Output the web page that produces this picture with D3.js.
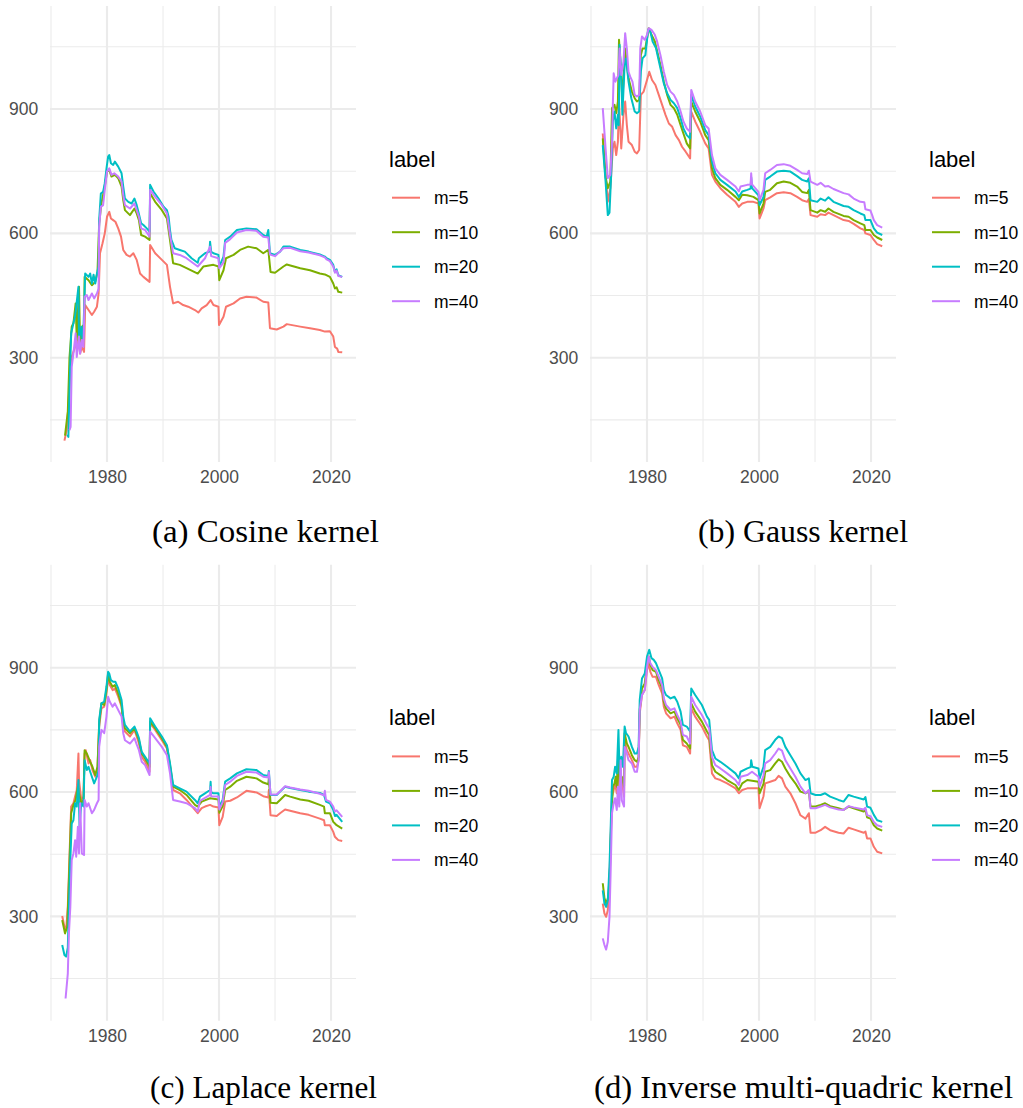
<!DOCTYPE html>
<html>
<head>
<meta charset="utf-8">
<script src="https://cdn.jsdelivr.net/npm/d3@7"></script>
<style>
  html, body { margin: 0; padding: 0; background: #fff; }
  svg { display: block; }
</style>
</head>
<body>
<svg id="chart" width="1023" height="1108"></svg>
<script>
// ---------------- DATA ----------------
const seriesLabels = ["m=5", "m=10", "m=20", "m=40"];
const seriesColors = ["#F8766D", "#7CAE00", "#00BFC4", "#C77CFF"];
const xTickValues = [1980, 2000, 2020];
const xMinorValues = [1970, 1990, 2010];
const yTickValues = [300, 600, 900];
const yMinorValues = [150, 450, 750, 1050];
const captions = ["(a) Cosine kernel", "(b) Gauss kernel", "(c) Laplace kernel", "(d) Inverse multi-quadric kernel"];

// (a) Cosine kernel
const cosM5 = [[1972.4,100],[1972.8,125],[1973.1,182],[1973.4,262],[1973.7,302],[1974.3,326],[1974.9,343],[1975.2,310],[1975.5,326],[1975.9,314],[1976.1,427],[1976.7,415],[1977.3,403],[1977.7,411],[1978.2,423],[1978.5,455],[1978.75,552],[1979.2,576],[1979.6,600],[1980.0,640],[1980.4,652],[1980.7,636],[1981.1,632],[1981.5,628],[1982.0,612],[1982.5,592],[1982.9,560],[1983.5,548],[1984.1,544],[1984.7,552],[1985.3,536],[1985.9,503],[1986.5,495],[1987.6,483],[1987.7,572],[1988.6,552],[1989.8,536],[1990.7,524],[1991.25,471],[1991.8,431],[1992.7,435],[1993.6,427],[1994.5,423],[1995.7,415],[1996.3,409],[1996.9,419],[1997.8,427],[1998.5,439],[1999.0,427],[1999.9,423],[2000.0,379],[2000.8,399],[2001.25,423],[2002.6,431],[2003.75,443],[2004.9,447],[2006.7,445],[2007.9,435],[2008.8,433],[2009.1,371],[2010.3,368],[2011.5,375],[2012.1,381],[2014.5,375],[2016.25,371],[2018.0,367],[2018.9,363],[2019.8,364],[2020.4,351],[2020.7,326],[2021.1,322],[2021.3,314],[2022.0,313]];
const cosM10 = [[1972.5,112],[1973.0,170],[1973.3,300],[1973.7,375],[1974.0,383],[1974.4,431],[1974.6,343],[1975.0,471],[1975.2,326],[1975.6,375],[1975.9,380],[1976.0,495],[1976.7,487],[1977.3,475],[1977.9,483],[1978.3,507],[1978.6,624],[1979.0,672],[1979.6,713],[1980.0,749],[1980.4,753],[1980.8,737],[1981.4,741],[1982.0,733],[1982.6,713],[1982.9,680],[1983.2,656],[1984.1,644],[1984.9,660],[1985.3,648],[1985.7,632],[1986.1,596],[1986.8,592],[1987.6,584],[1987.7,697],[1988.6,676],[1989.8,656],[1990.7,636],[1991.25,584],[1991.8,528],[1993.0,524],[1994.2,516],[1996.2,503],[1997.2,520],[1999.0,524],[1999.9,520],[2000.05,487],[2000.8,511],[2001.25,540],[2002.6,548],[2003.75,560],[2005.2,568],[2006.7,564],[2007.9,552],[2008.8,560],[2009.2,507],[2010.0,505],[2011.5,520],[2012.1,525],[2014.5,516],[2016.25,511],[2018.0,503],[2018.9,501],[2019.8,495],[2020.4,479],[2020.7,467],[2021.0,470],[2021.3,459],[2022.0,457]];
const cosM20 = [[1972.9,115],[1973.1,109],[1973.4,270],[1973.6,359],[1974.0,383],[1974.3,400],[1974.9,471],[1975.0,342],[1975.4,375],[1975.7,330],[1976.0,455],[1976.1,503],[1976.7,495],[1977.0,503],[1977.3,479],[1977.6,500],[1977.9,479],[1978.2,503],[1978.5,520],[1978.6,632],[1978.9,696],[1979.3,700],[1979.6,721],[1979.95,761],[1980.2,785],[1980.4,789],[1980.7,769],[1981.1,765],[1981.4,773],[1982.0,761],[1982.6,745],[1982.9,713],[1983.2,684],[1983.8,676],[1984.4,672],[1984.9,684],[1985.3,668],[1985.6,652],[1986.1,624],[1986.5,620],[1987.1,612],[1987.6,604],[1987.7,717],[1988.3,701],[1989.2,684],[1990.1,664],[1990.7,656],[1991.0,640],[1991.25,608],[1991.5,584],[1992.1,564],[1993.0,560],[1993.9,556],[1995.1,540],[1996.2,529],[1996.4,540],[1997.5,552],[1998.3,556],[1998.4,580],[1998.6,556],[1999.0,552],[1999.9,548],[2000.05,520],[2000.8,544],[2001.1,584],[2002.0,592],[2003.2,608],[2004.9,612],[2006.7,610],[2007.9,596],[2008.5,592],[2008.8,608],[2009.1,552],[2010.0,548],[2010.9,556],[2011.5,568],[2012.7,568],[2014.5,560],[2016.0,556],[2018.0,549],[2018.9,544],[2019.2,540],[2019.8,536],[2020.4,524],[2020.7,507],[2021.0,513],[2021.3,499],[2022.0,495]];
const cosM40 = [[1973.3,125],[1973.5,133],[1973.7,278],[1974.0,310],[1974.4,359],[1974.6,302],[1975.0,351],[1975.2,310],[1975.5,343],[1975.8,326],[1976.0,447],[1976.4,451],[1976.7,439],[1977.3,455],[1977.7,443],[1978.2,455],[1978.5,467],[1978.6,616],[1978.9,664],[1979.3,668],[1979.6,705],[1980.0,749],[1980.4,757],[1980.8,741],[1981.3,745],[1982.0,737],[1982.6,725],[1982.9,692],[1983.2,668],[1984.1,660],[1984.9,672],[1985.3,656],[1985.7,640],[1986.1,612],[1986.8,608],[1987.6,592],[1987.7,705],[1988.6,688],[1989.8,668],[1990.7,648],[1991.25,596],[1991.8,552],[1993.0,548],[1994.2,540],[1996.2,520],[1997.5,540],[1998.4,568],[1998.6,545],[1999.9,540],[2000.05,516],[2000.8,530],[2001.1,577],[2002.0,586],[2003.2,602],[2004.9,608],[2006.7,606],[2007.9,592],[2008.8,590],[2009.1,549],[2010.0,545],[2011.5,564],[2012.7,565],[2014.5,557],[2016.0,554],[2018.0,547],[2018.9,542],[2019.2,537],[2019.8,533],[2020.4,520],[2020.7,505],[2021.0,510],[2021.3,497],[2022.0,495]];

// (b) Gauss kernel
const gauM5 = [[1972.1,841],[1972.6,745],[1973.0,676],[1973.45,709],[1973.9,805],[1974.2,821],[1974.5,789],[1974.8,821],[1975.0,918],[1975.4,805],[1975.8,886],[1976.1,918],[1976.4,861],[1976.7,821],[1977.3,813],[1977.8,797],[1978.2,793],[1978.6,801],[1978.9,934],[1979.4,942],[1980.0,970],[1980.4,990],[1980.9,970],[1981.5,958],[1982.1,934],[1982.7,910],[1983.3,886],[1983.9,865],[1984.5,857],[1985.1,837],[1985.7,825],[1986.25,809],[1986.9,797],[1987.7,781],[1987.9,894],[1988.6,870],[1989.5,845],[1990.4,817],[1991.0,805],[1991.6,741],[1992.2,725],[1993.1,709],[1994.3,693],[1995.8,676],[1996.4,664],[1997.0,672],[1997.9,676],[1999.0,676],[1999.9,672],[2000.1,636],[2000.8,660],[2001.1,680],[2002.0,687],[2003.2,697],[2004.4,699],[2005.6,697],[2006.8,688],[2007.7,680],[2008.6,676],[2008.9,683],[2009.2,644],[2010.4,640],[2011.0,646],[2011.8,644],[2012.4,650],[2013.3,644],[2015.1,632],[2016.0,630],[2016.9,623],[2018.1,612],[2018.8,608],[2019.0,600],[2019.9,596],[2020.5,584],[2021.1,574],[2022.0,569]];
const gauM10 = [[1972.1,829],[1972.6,735],[1973.0,709],[1973.45,725],[1973.75,902],[1974.2,910],[1974.5,890],[1974.8,918],[1975.0,1067],[1975.4,982],[1975.6,918],[1976.1,1046],[1976.7,974],[1977.3,942],[1977.8,926],[1978.2,918],[1978.6,922],[1978.9,1030],[1979.2,1046],[1979.7,1046],[1980.3,1095],[1980.8,1079],[1981.4,1063],[1982.4,1006],[1983.0,966],[1983.6,934],[1984.2,910],[1984.8,902],[1985.4,886],[1986.0,861],[1986.5,841],[1987.1,817],[1987.7,805],[1987.9,918],[1988.6,894],[1989.5,870],[1990.4,837],[1991.0,825],[1991.6,757],[1992.2,733],[1993.1,717],[1994.3,705],[1995.8,688],[1996.4,680],[1997.0,693],[1997.9,692],[1999.0,688],[1999.9,680],[2000.1,648],[2000.8,672],[2001.1,700],[2002.0,705],[2003.2,721],[2004.4,725],[2005.6,722],[2006.8,713],[2007.7,700],[2008.6,697],[2008.9,705],[2009.2,656],[2010.4,650],[2011.0,656],[2011.8,652],[2012.4,660],[2013.3,652],[2015.1,642],[2016.0,640],[2016.9,632],[2018.1,624],[2018.8,620],[2019.0,608],[2019.9,608],[2020.5,596],[2021.1,590],[2022.0,584]];
const gauM20 = [[1972.1,813],[1972.6,725],[1973.0,644],[1973.3,650],[1973.6,741],[1973.9,870],[1974.2,894],[1974.5,853],[1974.8,886],[1974.95,861],[1975.1,1055],[1975.4,982],[1975.6,886],[1976.0,1006],[1976.25,1022],[1976.7,966],[1977.2,926],[1977.8,894],[1978.2,890],[1978.6,894],[1978.9,990],[1979.2,1022],[1979.7,1030],[1980.2,1091],[1980.6,1087],[1981.0,1063],[1981.6,1047],[1982.4,998],[1983.0,962],[1983.6,938],[1984.2,922],[1984.8,914],[1985.4,902],[1986.0,878],[1986.5,853],[1987.1,837],[1987.7,829],[1987.9,934],[1988.6,906],[1989.5,882],[1990.4,849],[1991.0,837],[1991.6,773],[1992.2,745],[1993.1,729],[1994.3,717],[1995.8,701],[1996.4,688],[1997.0,701],[1997.9,705],[1998.5,708],[1998.6,735],[1998.75,709],[1999.9,692],[2000.1,668],[2000.8,688],[2001.1,729],[2002.0,737],[2003.2,749],[2004.4,751],[2005.6,749],[2006.8,738],[2007.7,729],[2008.6,725],[2008.9,733],[2009.2,680],[2010.4,676],[2011.0,684],[2011.8,679],[2012.4,687],[2013.3,676],[2015.1,666],[2016.0,664],[2016.9,656],[2018.1,648],[2018.8,644],[2019.0,632],[2019.9,632],[2020.5,612],[2021.1,602],[2022.0,596]];
const gauM40 = [[1972.1,902],[1972.6,805],[1973.0,733],[1973.45,741],[1973.75,821],[1973.9,910],[1974.05,986],[1974.35,966],[1974.6,974],[1974.9,982],[1975.1,1046],[1975.4,982],[1975.8,1014],[1976.1,1083],[1976.4,1046],[1976.7,990],[1977.0,978],[1977.4,966],[1977.8,934],[1978.2,930],[1978.6,934],[1978.8,1046],[1979.1,1075],[1979.6,1067],[1980.0,1079],[1980.3,1095],[1980.8,1091],[1981.4,1079],[1981.8,1063],[1982.4,1030],[1983.0,990],[1983.6,958],[1984.2,942],[1984.8,934],[1985.4,918],[1986.0,894],[1986.5,870],[1987.1,853],[1987.7,845],[1987.9,946],[1988.6,918],[1989.5,894],[1990.4,861],[1991.0,853],[1991.6,789],[1992.2,757],[1993.1,741],[1994.3,729],[1995.8,713],[1996.4,701],[1996.7,713],[1997.9,717],[1998.5,718],[1998.6,745],[1998.75,718],[1999.9,700],[2000.1,680],[2000.8,705],[2001.1,745],[2002.0,753],[2003.2,765],[2004.4,767],[2005.6,763],[2006.8,753],[2007.7,745],[2008.6,743],[2008.9,751],[2009.2,725],[2010.4,717],[2011.0,722],[2011.8,713],[2012.4,714],[2013.3,707],[2015.1,697],[2016.0,694],[2016.9,684],[2018.1,676],[2018.8,675],[2019.0,658],[2019.9,655],[2020.2,644],[2020.5,632],[2021.1,620],[2022.0,614]];

// (c) Laplace kernel
const lapM5 = [[1972.0,301],[1972.4,275],[1972.7,267],[1973.0,323],[1973.2,404],[1973.6,565],[1974.0,573],[1974.3,589],[1974.6,605],[1974.9,693],[1975.0,629],[1975.4,581],[1975.8,589],[1976.0,693],[1976.2,701],[1976.7,669],[1977.0,677],[1977.4,653],[1977.9,637],[1978.3,657],[1978.6,758],[1979.0,802],[1979.5,806],[1979.9,838],[1980.2,874],[1980.5,858],[1981.0,846],[1981.4,850],[1982.0,830],[1982.6,806],[1982.9,766],[1983.2,746],[1984.1,734],[1984.9,750],[1985.3,734],[1985.7,717],[1986.2,685],[1986.8,673],[1987.6,649],[1987.7,766],[1988.6,750],[1989.8,725],[1990.7,705],[1991.25,661],[1991.8,605],[1993.0,597],[1994.2,581],[1995.7,557],[1996.2,549],[1996.9,561],[1997.5,565],[1998.4,569],[1999.0,565],[1999.9,563],[2000.05,520],[2000.65,540],[2001.1,577],[2002.0,579],[2003.2,587],[2004.9,603],[2006.7,599],[2007.9,590],[2008.8,587],[2008.9,605],[2009.2,544],[2010.3,542],[2010.9,549],[2011.8,558],[2012.7,555],[2014.5,549],[2016.0,545],[2018.0,536],[2018.75,532],[2018.9,520],[2019.8,520],[2020.4,504],[2020.7,492],[2021.0,488],[2021.3,484],[2022.0,482]];
const lapM10 = [[1972.0,291],[1972.5,259],[1972.9,275],[1973.2,388],[1973.6,549],[1974.0,569],[1974.4,581],[1974.8,613],[1975.0,597],[1975.4,573],[1975.8,581],[1976.0,701],[1976.4,693],[1977.0,673],[1977.4,661],[1977.9,641],[1978.3,661],[1978.6,766],[1979.0,814],[1979.5,810],[1979.9,846],[1980.2,886],[1980.5,866],[1981.0,854],[1981.4,858],[1982.0,838],[1982.6,810],[1982.9,766],[1983.2,754],[1984.1,742],[1984.9,754],[1985.3,740],[1985.7,725],[1986.2,693],[1986.8,681],[1987.6,661],[1987.7,770],[1988.6,754],[1989.8,730],[1990.7,709],[1991.25,665],[1991.8,613],[1993.0,605],[1994.2,593],[1995.7,569],[1996.2,565],[1996.9,577],[1998.4,585],[1999.9,582],[2000.05,550],[2000.65,566],[2001.1,605],[2002.0,613],[2003.2,627],[2004.9,637],[2006.7,633],[2007.9,623],[2008.8,619],[2008.9,633],[2009.2,574],[2010.3,573],[2010.9,581],[2011.8,593],[2012.7,589],[2014.5,582],[2016.0,579],[2018.0,569],[2018.75,565],[2018.9,549],[2019.8,549],[2020.4,528],[2020.7,524],[2021.0,520],[2022.0,512]];
const lapM20 = [[1972.0,231],[1972.4,207],[1972.7,203],[1973.0,225],[1973.2,323],[1973.4,420],[1973.7,524],[1974.0,532],[1974.3,573],[1974.6,565],[1974.9,629],[1975.1,516],[1975.4,573],[1975.8,565],[1976.0,677],[1976.4,653],[1976.7,661],[1977.3,637],[1977.7,621],[1978.2,637],[1978.5,653],[1978.6,774],[1979.0,814],[1979.5,818],[1979.9,854],[1980.2,890],[1980.4,886],[1980.7,870],[1981.1,866],[1981.5,866],[1982.0,850],[1982.6,822],[1982.9,782],[1983.2,762],[1984.1,746],[1984.9,758],[1985.3,745],[1985.7,730],[1986.2,697],[1986.8,685],[1987.6,669],[1987.7,778],[1988.6,758],[1989.8,734],[1990.7,713],[1991.25,669],[1991.8,617],[1993.0,609],[1994.2,601],[1995.7,581],[1996.2,573],[1996.6,589],[1997.5,597],[1998.4,605],[1998.5,625],[1998.6,600],[1999.0,597],[1999.9,597],[2000.05,565],[2000.65,581],[2001.1,625],[2002.0,633],[2003.2,645],[2004.9,655],[2006.7,653],[2007.9,641],[2008.8,639],[2008.9,651],[2009.2,593],[2010.3,593],[2010.9,601],[2011.8,613],[2012.7,610],[2014.5,605],[2016.0,601],[2018.0,598],[2018.75,593],[2019.1,577],[2019.8,573],[2020.4,557],[2020.7,542],[2021.0,545],[2022.0,528]];
const lapM40 = [[1972.6,102],[1973.0,162],[1973.2,259],[1973.45,323],[1973.7,436],[1974.0,452],[1974.3,484],[1974.5,444],[1974.8,516],[1975.0,452],[1975.2,573],[1975.5,452],[1975.9,448],[1976.0,581],[1976.4,565],[1976.7,573],[1977.3,549],[1977.7,557],[1978.2,573],[1978.5,581],[1978.6,709],[1979.0,750],[1979.5,742],[1979.9,782],[1980.2,830],[1980.5,818],[1981.0,806],[1981.4,814],[1982.0,798],[1982.6,782],[1982.9,742],[1983.2,725],[1984.1,717],[1984.9,730],[1985.3,715],[1985.7,701],[1986.2,673],[1986.8,665],[1987.6,641],[1987.7,746],[1988.6,730],[1989.8,709],[1990.7,689],[1991.25,645],[1991.8,581],[1993.0,577],[1994.2,573],[1995.7,561],[1996.2,553],[1996.6,579],[1998.4,593],[1998.5,612],[1998.6,590],[1999.9,589],[2000.05,558],[2000.65,575],[2001.1,617],[2002.0,625],[2003.2,639],[2004.9,649],[2006.7,647],[2007.9,637],[2008.8,635],[2008.9,648],[2009.2,594],[2010.3,594],[2010.9,602],[2011.8,614],[2012.7,611],[2014.5,606],[2016.0,603],[2018.0,596],[2018.75,592],[2018.9,603],[2019.1,581],[2019.8,577],[2020.4,565],[2020.7,553],[2021.0,556],[2022.0,540]];

// (d) Inverse multi-quadric kernel
const imqM5 = [[1972.1,331],[1972.4,307],[1972.7,299],[1973.0,315],[1973.3,388],[1973.5,490],[1973.75,589],[1974.05,605],[1974.3,621],[1974.6,597],[1974.9,685],[1975.1,605],[1975.5,629],[1975.9,589],[1976.0,726],[1976.4,701],[1976.7,693],[1977.3,677],[1977.8,661],[1978.2,661],[1978.5,677],[1978.7,790],[1979.1,834],[1979.6,846],[1980.0,894],[1980.3,911],[1980.6,890],[1981.0,878],[1981.6,878],[1982.1,858],[1982.7,838],[1983.0,806],[1983.4,790],[1984.2,778],[1984.9,782],[1985.4,766],[1986.0,750],[1986.4,713],[1987.1,709],[1987.7,693],[1987.9,802],[1988.6,782],[1989.8,758],[1990.7,734],[1991.1,725],[1991.6,645],[1992.2,633],[1993.1,629],[1994.3,621],[1995.8,609],[1996.4,597],[1997.0,605],[1997.9,609],[1999.9,609],[2000.1,561],[2000.8,590],[2001.1,621],[2002.0,625],[2002.9,629],[2003.5,639],[2004.1,633],[2004.7,613],[2005.6,597],[2006.5,573],[2007.4,544],[2008.3,536],[2008.9,549],[2009.2,502],[2010.1,502],[2011.0,508],[2011.8,516],[2012.7,508],[2014.2,502],[2015.1,500],[2016.0,514],[2016.9,510],[2018.7,502],[2019.0,505],[2019.3,488],[2019.9,488],[2020.5,468],[2021.1,456],[2022.0,452]];
const imqM10 = [[1972.1,380],[1972.4,344],[1972.7,331],[1973.1,347],[1973.4,420],[1973.6,520],[1973.9,613],[1974.2,621],[1974.4,637],[1974.6,613],[1974.9,701],[1975.1,613],[1975.5,637],[1975.9,613],[1976.0,742],[1976.4,717],[1976.7,709],[1977.3,689],[1977.8,677],[1978.2,673],[1978.5,685],[1978.7,798],[1979.1,850],[1979.6,862],[1980.0,911],[1980.3,927],[1980.6,907],[1981.0,894],[1981.6,890],[1982.1,870],[1982.7,850],[1983.0,818],[1983.4,802],[1984.2,790],[1984.9,794],[1985.4,778],[1986.0,762],[1986.4,726],[1987.1,717],[1987.7,705],[1987.9,814],[1988.6,794],[1989.8,770],[1990.7,746],[1991.1,738],[1991.6,665],[1992.2,649],[1993.1,641],[1994.3,629],[1995.8,617],[1996.4,605],[1997.0,621],[1997.9,629],[1999.9,625],[2000.1,597],[2000.8,620],[2001.1,649],[2002.0,653],[2002.9,669],[2003.5,679],[2004.1,673],[2004.7,657],[2005.6,637],[2006.5,621],[2007.4,601],[2008.3,597],[2008.9,601],[2009.2,565],[2010.1,565],[2011.0,569],[2011.8,573],[2012.7,566],[2014.2,561],[2015.1,557],[2016.0,565],[2016.9,561],[2018.7,553],[2019.0,558],[2019.3,539],[2019.9,536],[2020.5,520],[2021.1,512],[2022.0,507]];
const imqM20 = [[1972.1,363],[1972.4,331],[1972.7,323],[1973.0,339],[1973.3,420],[1973.5,508],[1973.75,629],[1974.05,637],[1974.3,661],[1974.6,645],[1974.9,750],[1975.1,645],[1975.4,685],[1975.7,661],[1976.0,758],[1976.25,742],[1976.7,734],[1977.3,709],[1977.8,693],[1978.2,693],[1978.5,709],[1978.7,822],[1979.1,874],[1979.6,886],[1980.0,927],[1980.4,943],[1980.8,923],[1981.2,919],[1981.6,911],[1982.1,894],[1982.7,874],[1983.0,846],[1983.4,834],[1984.2,826],[1984.9,830],[1985.4,818],[1986.0,794],[1986.4,762],[1987.1,758],[1987.7,746],[1987.9,850],[1988.6,834],[1989.8,810],[1990.7,782],[1991.1,774],[1991.6,701],[1992.2,681],[1993.1,673],[1994.3,661],[1995.8,645],[1996.4,633],[1996.7,649],[1997.9,657],[1998.5,660],[1998.6,677],[1998.8,661],[1999.9,657],[2000.1,633],[2000.8,661],[2001.1,701],[2002.0,709],[2002.9,726],[2003.5,734],[2004.1,730],[2004.7,709],[2005.6,689],[2006.5,669],[2007.4,645],[2008.3,629],[2008.9,633],[2009.2,597],[2010.1,593],[2011.0,593],[2011.8,597],[2012.7,589],[2014.2,581],[2015.1,577],[2016.0,593],[2016.9,589],[2018.7,582],[2019.0,588],[2019.3,565],[2019.9,562],[2020.5,545],[2021.1,532],[2022.0,528]];
const imqM40 = [[1972.1,247],[1972.4,231],[1972.7,220],[1973.0,239],[1973.3,299],[1973.5,404],[1973.75,549],[1974.05,573],[1974.3,585],[1974.6,557],[1974.8,613],[1975.05,565],[1975.3,677],[1975.5,580],[1975.9,565],[1976.0,709],[1976.4,693],[1976.7,677],[1977.3,669],[1977.8,649],[1978.2,649],[1978.5,677],[1978.7,798],[1979.1,834],[1979.6,846],[1980.0,902],[1980.3,927],[1980.6,911],[1981.0,902],[1981.6,894],[1982.1,878],[1982.7,858],[1983.0,826],[1983.4,810],[1984.2,798],[1984.9,802],[1985.4,786],[1986.0,770],[1986.4,738],[1987.1,734],[1987.7,717],[1987.9,830],[1988.6,810],[1989.8,786],[1990.7,762],[1991.1,754],[1991.6,685],[1992.2,665],[1993.1,657],[1994.3,645],[1995.8,629],[1996.4,617],[1996.7,637],[1997.9,641],[1998.75,649],[1999.9,637],[2000.1,613],[2000.8,640],[2001.1,669],[2002.0,677],[2002.9,693],[2003.5,705],[2004.1,700],[2004.7,677],[2005.6,657],[2006.5,637],[2007.4,613],[2008.3,597],[2008.9,605],[2009.2,561],[2010.1,561],[2011.0,565],[2011.8,569],[2012.7,563],[2014.2,558],[2015.1,557],[2016.0,566],[2016.9,563],[2018.7,558],[2019.0,562],[2019.3,544],[2019.9,542],[2020.5,528],[2021.1,520],[2022.0,516]];

const panelSeries = [
  [cosM5, cosM10, cosM20, cosM40],
  [gauM5, gauM10, gauM20, gauM40],
  [lapM5, lapM10, lapM20, lapM40],
  [imqM5, imqM10, imqM20, imqM40]
];

// ---------------- LAYOUT ----------------
const panelOffsets = [[0, 0], [540, 0], [0, 558.7], [540, 558.7]];
const captionLayout = [
  {cx: 265.5, y: 542, w: 227},
  {cx: 803, y: 542, w: 210},
  {cx: 263.5, y: 1098, w: 227},
  {cx: 803.5, y: 1098, w: 419}
];
const plot = {left: 50, right: 356, top: 6, bottom: 462};
const sans = "'Liberation Sans', Arial, Helvetica, sans-serif";

const x = d3.scaleLinear().domain([1969.82, 2024.46]).range([plot.left, plot.right]);
const y = d3.scaleLinear().domain([48.4, 1148.5]).range([plot.bottom, plot.top]);

const svg = d3.select("#chart");
svg.append("rect").attr("width", 1023).attr("height", 1108).attr("fill", "#fff");

const line = d3.line().x(d => x(d[0])).y(d => y(d[1]));

panelSeries.forEach((series, p) => {
  const g = svg.append("g").attr("transform", `translate(${panelOffsets[p][0]},${panelOffsets[p][1]})`);

  // minor grid
  g.append("g").selectAll("line").data(yMinorValues).join("line")
    .attr("x1", plot.left).attr("x2", plot.right)
    .attr("y1", d => y(d)).attr("y2", d => y(d))
    .attr("stroke", "#ebebeb").attr("stroke-width", 1.07);
  g.append("g").selectAll("line").data(xMinorValues).join("line")
    .attr("y1", plot.top).attr("y2", plot.bottom)
    .attr("x1", d => x(d)).attr("x2", d => x(d))
    .attr("stroke", "#ebebeb").attr("stroke-width", 1.07);
  // major grid
  g.append("g").selectAll("line").data(yTickValues).join("line")
    .attr("x1", plot.left).attr("x2", plot.right)
    .attr("y1", d => y(d)).attr("y2", d => y(d))
    .attr("stroke", "#ebebeb").attr("stroke-width", 2.13);
  g.append("g").selectAll("line").data(xTickValues).join("line")
    .attr("y1", plot.top).attr("y2", plot.bottom)
    .attr("x1", d => x(d)).attr("x2", d => x(d))
    .attr("stroke", "#ebebeb").attr("stroke-width", 2.13);

  // axes via d3 axis generators (no domain / ticks, only labels)
  const yAxis = g.append("g").attr("transform", `translate(${plot.left},0)`)
    .call(d3.axisLeft(y).tickValues(yTickValues).tickSize(0).tickPadding(11.7));
  const xAxis = g.append("g").attr("transform", `translate(0,${plot.bottom})`)
    .call(d3.axisBottom(x).tickValues(xTickValues).tickFormat(d3.format("d")).tickSize(0).tickPadding(9));
  [yAxis, xAxis].forEach(a => {
    a.select(".domain").remove();
    a.selectAll("text").attr("font-family", sans).attr("font-size", 17.5).attr("fill", "#4d4d4d");
  });

  // data lines
  series.forEach((s, i) => {
    g.append("path").datum(s)
      .attr("d", line)
      .attr("fill", "none")
      .attr("stroke", seriesColors[i])
      .attr("stroke-width", 2)
      .attr("stroke-linejoin", "round");
  });

  // legend
  const lg = g.append("g");
  lg.append("text").attr("x", 389).attr("y", 166.7)
    .attr("font-family", sans).attr("font-size", 22).attr("fill", "#000").text("label");
  seriesLabels.forEach((lab, i) => {
    const cy = 197.7 + i * 34.5;
    lg.append("line").attr("x1", 392).attr("x2", 420).attr("y1", cy).attr("y2", cy)
      .attr("stroke", seriesColors[i]).attr("stroke-width", 2);
    lg.append("text").attr("x", 434).attr("y", cy + 6.3)
      .attr("font-family", sans).attr("font-size", 17.5).attr("fill", "#000").text(lab);
  });
});

// captions
captions.forEach((c, i) => {
  const L = captionLayout[i];
  svg.append("text")
    .attr("x", L.cx).attr("y", L.y)
    .attr("text-anchor", "middle")
    .attr("font-family", "'Liberation Serif', 'Times New Roman', serif")
    .attr("font-size", 31)
    .attr("fill", "#000")
    .attr("textLength", L.w)
    .attr("lengthAdjust", "spacingAndGlyphs")
    .text(c);
});
</script>
</body>
</html>
